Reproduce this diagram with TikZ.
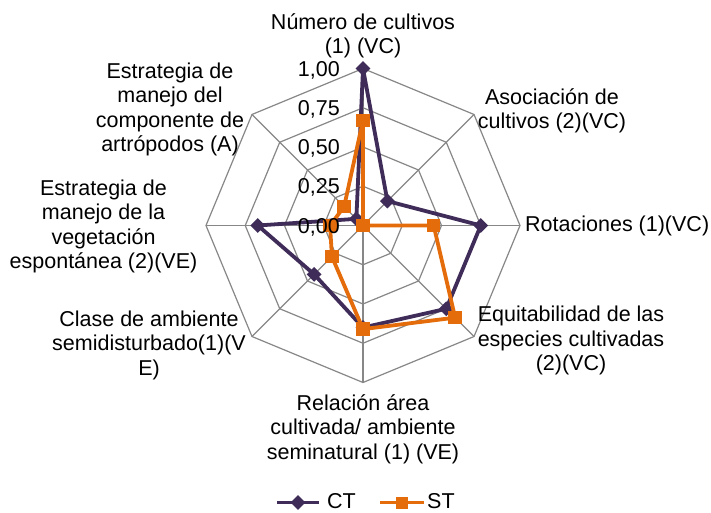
\documentclass[tikz,border=0pt]{standalone}
\usepackage{fontspec}
\setmainfont{Liberation Sans}
\usetikzlibrary{shapes.geometric}
\definecolor{ctcol}{HTML}{3F2C58}
\definecolor{stcol}{HTML}{E46C0A}
\definecolor{gridcol}{HTML}{878787}
\begin{document}
\begin{tikzpicture}[x=1pt,y=1pt,
  gridline/.style={draw=gridcol,line width=1.2pt},
  ctline/.style={draw=ctcol,line width=3.8pt,line join=round},
  stline/.style={draw=stcol,line width=3.8pt,line join=round},
  ctmark/.style={fill=ctcol,draw=none,shape=diamond,minimum size=15pt,inner sep=0pt},
  stmark/.style={fill=stcol,draw=none,shape=rectangle,minimum size=13.5pt,inner sep=0pt},
  lbl/.style={font=\fontsize{21.5}{24.5}\selectfont,align=center,inner sep=0pt},
  leglbl/.style={font=\fontsize{21.5}{24.5}\selectfont,inner sep=0pt,anchor=base west},
  ticklbl/.style={font=\fontsize{21.5}{24.5}\selectfont,inner sep=0pt,anchor=base east},
]
\useasboundingbox (0,0) rectangle (711,512);
\fill[white] (0,0) rectangle (711,512);
\begin{scope}[shift={(363,286.5)}]
  % grid
  \foreach \r in {0.25,0.5,0.75,1} {
    \draw[gridline] (90:{157*\r}) -- (45:{157*\r}) -- (0:{157*\r}) -- (-45:{157*\r})
      -- (-90:{157*\r}) -- (-135:{157*\r}) -- (180:{157*\r}) -- (135:{157*\r}) -- cycle;
  }
  \foreach \a in {0,45,...,315} {
    \draw[gridline] (0,0) -- (\a:157);
  }
  % CT data
  \coordinate (ct1) at (90:{157*1.00});
  \coordinate (ct2) at (45:{157*0.22});
  \coordinate (ct3) at (0:{157*0.75});
  \coordinate (ct4) at (-45:{157*0.75});
  \coordinate (ct5) at (-90:{157*0.65});
  \coordinate (ct6) at (-135:{157*0.44});
  \coordinate (ct7) at (180:{157*0.67});
  \coordinate (ct8) at (135:{157*0.06});
  % ST data
  \coordinate (st1) at (90:{157*0.67});
  \coordinate (st2) at (0,0);
  \coordinate (st3) at (0:{157*0.45});
  \coordinate (st4) at (-45:{157*0.83});
  \coordinate (st5) at (-90:{157*0.66});
  \coordinate (st6) at (-135:{157*0.28});
  \coordinate (st7) at (180:{157*0.21});
  \coordinate (st8) at (135:{157*0.17});
  \draw[ctline] (ct1) -- (ct2) -- (ct3) -- (ct4) -- (ct5) -- (ct6) -- (ct7) -- (ct8) -- cycle;
  \foreach \i in {1,...,8} { \node[ctmark] (ctm\i) at (ct\i) {}; }
  \draw[stline] (st1) -- (st2) -- (st3) -- (st4) -- (st5) -- (st6) -- (st7) -- (st8) -- cycle;
  \foreach \i in {1,...,8} { \node[stmark] (stm\i) at (st\i) {}; }
  % tick labels
  \node[ticklbl] (t100) at (-23,{157*1.00-7.7}) {1,00};
  \node[ticklbl] (t075) at (-23,{157*0.75-7.7}) {0,75};
  \node[ticklbl] (t050) at (-23,{157*0.50-7.7}) {0,50};
  \node[ticklbl] (t025) at (-23,{157*0.25-7.7}) {0,25};
  \node[ticklbl] (t000) at (-23,{157*0.00-7.7}) {0,00};
\end{scope}
% category labels (anchor base = baseline of last line)
\node[lbl,anchor=base] (lnum) at (363,458) {Número de cultivos\\(1) (VC)};
\node[lbl,anchor=base] (lasoc) at (552,383) {Asociación de\\cultivos (2)(VC)};
\node[lbl,anchor=base west] (lrot) at (525,280.5) {Rotaciones (1)(VC)};
\node[lbl,anchor=base] (lequ) at (571,141.5) {Equitabilidad de las\\especies cultivadas\\(2)(VC)};
\node[lbl,anchor=base] (lrel) at (363,53) {Relación área\\cultivada/ ambiente\\seminatural (1) (VE)};
\node[lbl,anchor=base] (lcla) at (149,137) {Clase de ambiente\\semidisturbado(1)(V\\E)};
\node[lbl,anchor=base] (lveg) at (103.5,243.5) {Estrategia de\\manejo de la\\vegetación\\espontánea (2)(VE)};
\node[lbl,anchor=base] (lart) at (170,360.2) {Estrategia de\\manejo del\\componente de\\artrópodos (A)};
% legend
\coordinate (lcta) at (277,9.5);
\coordinate (lctb) at (319,9.5);
\draw[ctline] (lcta) -- (lctb);
\node[ctmark] (lctm) at (298,9.5) {};
\node[leglbl] (lct) at (327,4) {CT};
\coordinate (lsta) at (380,9.5);
\coordinate (lstb) at (424,9.5);
\draw[stline] (lsta) -- (lstb);
\node[stmark,minimum size=12pt] (lstm) at (402,9.5) {};
\node[leglbl] (lst) at (427,4) {ST};
\end{tikzpicture}
\end{document}
